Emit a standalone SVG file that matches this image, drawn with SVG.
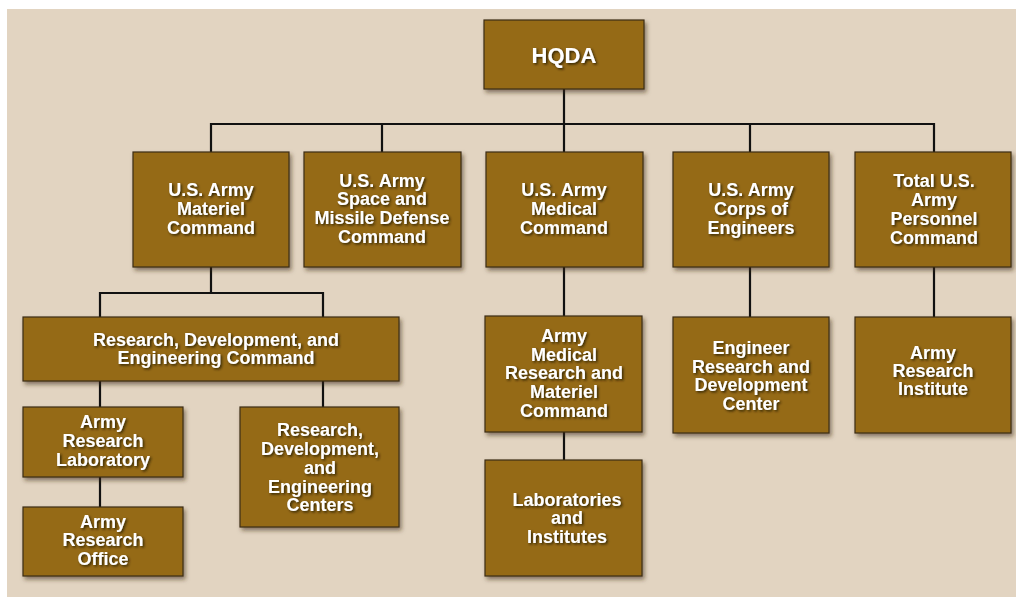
<svg xmlns="http://www.w3.org/2000/svg" width="1016" height="597" viewBox="0 0 1016 597">
<defs>
<filter id="bs" x="-10%" y="-10%" width="125%" height="130%">
<feDropShadow dx="2" dy="3" stdDeviation="2" flood-color="#3a2a10" flood-opacity="0.55"/>
</filter>
<filter id="ts" x="-10%" y="-20%" width="120%" height="150%">
<feDropShadow dx="1.5" dy="1.5" stdDeviation="1.2" flood-color="#2a1a00" flood-opacity="0.9"/>
</filter>
</defs>
<style>
.box{fill:#956a18;stroke:#3b2c12;stroke-width:1.2;filter:url(#bs)}
.t{font-family:"Liberation Sans",Arial,sans-serif;font-weight:bold;font-size:18px;fill:#ffffff;text-anchor:middle;filter:url(#ts)}
.big{font-size:22px}
.c{stroke:#111;stroke-width:2.2;fill:none}
</style>
<rect x="0" y="0" width="1016" height="597" fill="#ffffff"/>
<rect x="7" y="9" width="1009" height="588" fill="#e2d4c1"/>
<g id="connectors">
<path class="c" d="M564 89V124M211 152V124H934V152M382 124V152M564 124V152M750 124V152"/>
<path class="c" d="M211 267V293M100 317V293H323V317"/>
<path class="c" d="M100 381V407M323 381V407M100 477V507"/>
<path class="c" d="M564 267V316M564 432V460"/>
<path class="c" d="M750 267V317M934 267V317"/>
</g>
<g id="hqda"><rect class="box" x="484" y="20" width="160" height="69"/><text class="t big" x="564" y="63">HQDA</text></g>
<g id="amc"><rect class="box" x="133" y="152" width="156" height="115"/><text class="t" x="211" y="196">U.S. Army</text><text class="t" x="211" y="215">Materiel</text><text class="t" x="211" y="234">Command</text></g>
<g id="smdc"><rect class="box" x="304" y="152" width="157" height="115"/><text class="t" x="382" y="187">U.S. Army</text><text class="t" x="382" y="205">Space and</text><text class="t" x="382" y="224">Missile Defense</text><text class="t" x="382" y="243">Command</text></g>
<g id="medcom"><rect class="box" x="486" y="152" width="157" height="115"/><text class="t" x="564" y="196">U.S. Army</text><text class="t" x="564" y="215">Medical</text><text class="t" x="564" y="234">Command</text></g>
<g id="usace"><rect class="box" x="673" y="152" width="156" height="115"/><text class="t" x="751" y="196">U.S. Army</text><text class="t" x="751" y="215">Corps of</text><text class="t" x="751" y="234">Engineers</text></g>
<g id="perscom"><rect class="box" x="855" y="152" width="156" height="115"/><text class="t" x="934" y="187">Total U.S.</text><text class="t" x="934" y="206">Army</text><text class="t" x="934" y="225">Personnel</text><text class="t" x="934" y="244">Command</text></g>
<g id="rdecom"><rect class="box" x="23" y="317" width="376" height="64"/><text class="t" x="216" y="346">Research, Development, and</text><text class="t" x="216" y="364">Engineering Command</text></g>
<g id="arl"><rect class="box" x="23" y="407" width="160" height="70"/><text class="t" x="103" y="428">Army</text><text class="t" x="103" y="447">Research</text><text class="t" x="103" y="466">Laboratory</text></g>
<g id="aro"><rect class="box" x="23" y="507" width="160" height="69"/><text class="t" x="103" y="528">Army</text><text class="t" x="103" y="546">Research</text><text class="t" x="103" y="565">Office</text></g>
<g id="rdec"><rect class="box" x="240" y="407" width="159" height="120"/><text class="t" x="320" y="436">Research,</text><text class="t" x="320" y="455">Development,</text><text class="t" x="320" y="474">and</text><text class="t" x="320" y="493">Engineering</text><text class="t" x="320" y="511">Centers</text></g>
<g id="mrmc"><rect class="box" x="485" y="316" width="157" height="116"/><text class="t" x="564" y="342">Army</text><text class="t" x="564" y="361">Medical</text><text class="t" x="564" y="379">Research and</text><text class="t" x="564" y="398">Materiel</text><text class="t" x="564" y="417">Command</text></g>
<g id="labs"><rect class="box" x="485" y="460" width="157" height="116"/><text class="t" x="567" y="506">Laboratories</text><text class="t" x="567" y="524">and</text><text class="t" x="567" y="543">Institutes</text></g>
<g id="erdc"><rect class="box" x="673" y="317" width="156" height="116"/><text class="t" x="751" y="354">Engineer</text><text class="t" x="751" y="373">Research and</text><text class="t" x="751" y="391">Development</text><text class="t" x="751" y="410">Center</text></g>
<g id="ari"><rect class="box" x="855" y="317" width="156" height="116"/><text class="t" x="933" y="359">Army</text><text class="t" x="933" y="377">Research</text><text class="t" x="933" y="395">Institute</text></g>
</svg>
